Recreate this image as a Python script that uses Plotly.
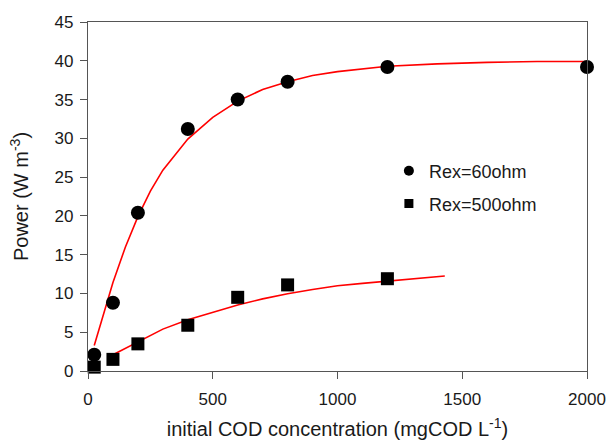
import plotly.graph_objects as go

# Measured data points
cod_60 = [25, 100, 200, 400, 600, 800, 1200, 2000]
power_60 = [2.1, 8.8, 20.4, 31.2, 35.0, 37.3, 39.2, 39.2]
cod_500 = [25, 100, 200, 400, 600, 800, 1200]
power_500 = [0.5, 1.5, 3.5, 5.9, 9.5, 11.1, 11.9]

# Fitted curves
fit_x_60 = [25, 50, 75, 100, 150, 200, 250, 300, 400, 500, 600, 700, 800, 900,
            1000, 1200, 1400, 1600, 1800, 2000]
fit_y_60 = [3.3, 6.1, 8.9, 11.4, 16.0, 19.9, 23.2, 25.9, 29.9, 32.7, 34.8, 36.3,
            37.3, 38.1, 38.6, 39.3, 39.6, 39.8, 39.9, 39.9]
fit_x_500 = [100, 150, 200, 300, 400, 500, 600, 700, 800, 900, 1000, 1100, 1200,
             1300, 1430]
fit_y_500 = [2.1, 2.9, 3.8, 5.4, 6.6, 7.6, 8.5, 9.3, 9.95, 10.5, 11.0, 11.3, 11.6,
             11.9, 12.25]

FONT = "Liberation Sans, Arial, sans-serif"
TXT = "#1a1a1a"
fig = go.Figure()

fig.add_trace(go.Scatter(x=fit_x_60, y=fit_y_60, mode="lines",
                         line=dict(color="#ff0000", width=1.6), showlegend=False))
fig.add_trace(go.Scatter(x=fit_x_500, y=fit_y_500, mode="lines",
                         line=dict(color="#ff0000", width=1.6), showlegend=False))
fig.add_trace(go.Scatter(x=cod_60, y=power_60, mode="markers",
                         marker=dict(symbol="circle", size=14, color="black"),
                         cliponaxis=False, showlegend=False))
fig.add_trace(go.Scatter(x=cod_500, y=power_500, mode="markers",
                         marker=dict(symbol="square", size=13, color="black"),
                         cliponaxis=False, showlegend=False))

# legend entries
fig.add_trace(go.Scatter(x=[None], y=[None], mode="markers", name="Rex=60ohm",
                         marker=dict(symbol="circle", size=10, color="black"),
                         legend="legend"))
fig.add_trace(go.Scatter(x=[None], y=[None], mode="markers", name="Rex=500ohm",
                         marker=dict(symbol="square", size=9, color="black"),
                         legend="legend2"))

axis_common = dict(showline=True, linecolor="#555555", linewidth=1.3, mirror=True,
                   ticks="outside", tickcolor="#555555", ticklen=7, tickwidth=1.3,
                   showgrid=False, zeroline=False, ticklabeloverflow="allow",
                   automargin=False,
                   tickfont=dict(family=FONT, size=17, color=TXT))

fig.update_layout(
    width=607, height=446,
    margin=dict(l=88, r=20, t=22, b=75),
    plot_bgcolor="white", paper_bgcolor="white",
    xaxis=dict(range=[0, 2000], tickvals=[0, 500, 1000, 1500, 2000],
               ticklabelstandoff=5,
               title=dict(text="initial COD concentration (mgCOD L<sup>-1</sup>)",
                          font=dict(family=FONT, size=20, color=TXT), standoff=14),
               **axis_common),
    yaxis=dict(range=[0, 45], tickvals=[0, 5, 10, 15, 20, 25, 30, 35, 40, 45],
               ticklabelstandoff=3,
               title=dict(text="Power (W m<sup>-3</sup>)",
                          font=dict(family=FONT, size=20, color=TXT), standoff=20),
               **axis_common),
    legend=dict(x=0.603, y=0.573, xanchor="left", yanchor="middle",
                bgcolor="rgba(0,0,0,0)", font=dict(family=FONT, size=18, color=TXT)),
    legend2=dict(x=0.603, y=0.479, xanchor="left", yanchor="middle",
                 bgcolor="rgba(0,0,0,0)", font=dict(family=FONT, size=18, color=TXT)),
)

fig.write_html("out.html", config={"displayModeBar": False},
               post_script="document.body.style.margin='0px';document.body.style.padding='0px';")
